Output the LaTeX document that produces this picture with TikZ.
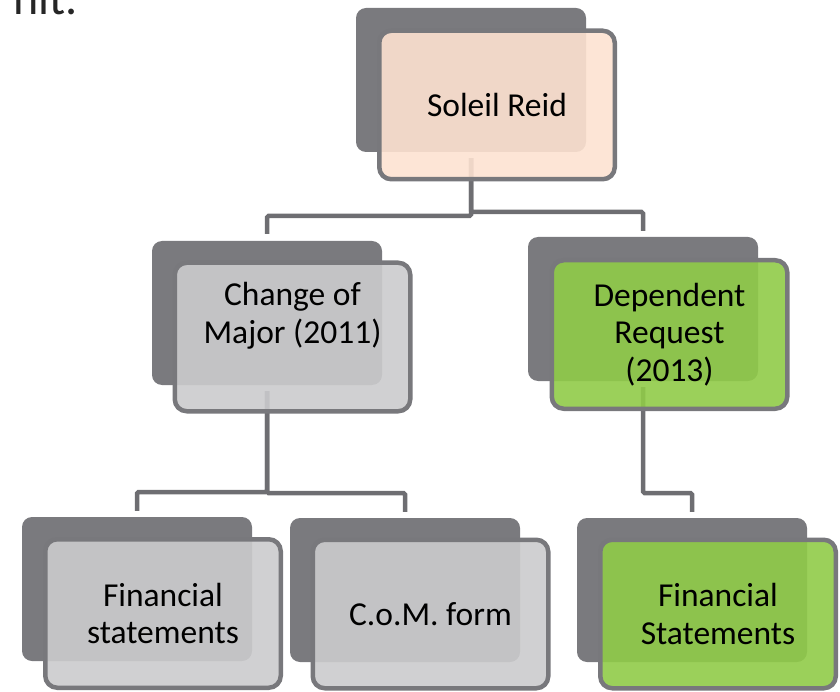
\documentclass[tikz,border=0pt]{standalone}
\usepackage{fontspec}
\setmainfont{Carlito}
\usetikzlibrary{backgrounds}
\definecolor{backgrey}{HTML}{7A7A7E}
\definecolor{bordergrey}{HTML}{78787C}
\definecolor{conngrey}{HTML}{6E6E72}
\definecolor{peach}{HTML}{FDE2D1}
\definecolor{lgrey}{HTML}{CBCBCD}
\definecolor{lgreen}{HTML}{90CB48}
\definecolor{titlegrey}{HTML}{262626}
\begin{document}
\begin{tikzpicture}[x=1pt,y=-1pt,
  backbox/.style={draw=none, fill=backgrey, rounded corners=10pt, minimum width=230pt, minimum height=144pt, inner sep=0pt},
  frontbox/.style={draw=bordergrey, line width=4.5pt, rounded corners=12pt, minimum width=235.5pt, minimum height=148.5pt, fill opacity=0.9, text opacity=1, align=center, font=\fontsize{33.5}{37.5}\selectfont, inner sep=0pt},
  conn/.style={draw=conngrey, line width=4.5pt, rounded corners=1.5pt}
]
\useasboundingbox (0,0) rectangle (840,692);

\node[anchor=base east, inner sep=0pt, font=\fontsize{48}{48}\selectfont, text=titlegrey] (title) at (78,15) {nit.};

% back boxes
\node[backbox] (rootb) at (471,80) {};
\node[backbox] (mlb) at (267,313) {};
\node[backbox] (mrb) at (643,309) {};
\node[backbox] (blb) at (137,589) {};
\node[backbox] (bmb) at (405,590) {};
\node[backbox] (brb) at (692,590) {};

% front boxes
\node[frontbox, fill=peach] (root) at (497,105) {Soleil Reid};
\node[frontbox, fill=lgrey] (ml) at (292.5,337) {Change of\\Major (2011)\\\strut};
\node[frontbox, fill=lgreen] (mr) at (669.5,334.5) {Dependent\\Request\\(2013)};
\node[frontbox, fill=lgrey] (bl) at (163,613.5) {Financial\\statements};
\node[frontbox, fill=lgrey] (bm) at (430.5,614) {C.o.M. form};
\node[frontbox, fill=lgreen] (br) at (718,614) {Financial\\Statements};

\coordinate (ya) at (0,216);
\coordinate (yb) at (0,212);
\coordinate (yc) at (0,492);
\coordinate (yd) at (0,493);

\begin{pgfonlayer}{background}
\draw[conn] ([yshift=-6pt]rootb.south) -- (rootb.south |- ya) -| ([yshift=7pt]mlb.north);
\draw[conn] ([yshift=-6pt]rootb.south) -- (rootb.south |- yb) -| ([yshift=6pt]mrb.north);
\draw[conn] ([yshift=-6pt]mlb.south) -- (mlb.south |- yc) -| ([yshift=6pt]blb.north);
\draw[conn] ([yshift=-6pt]mlb.south) -- (mlb.south |- yd) -| ([yshift=6pt]bmb.north);
\draw[conn] ([yshift=-6pt]mrb.south) -- (mrb.south |- yd) -| ([yshift=6pt]brb.north);
\end{pgfonlayer}
\end{tikzpicture}
\end{document}
